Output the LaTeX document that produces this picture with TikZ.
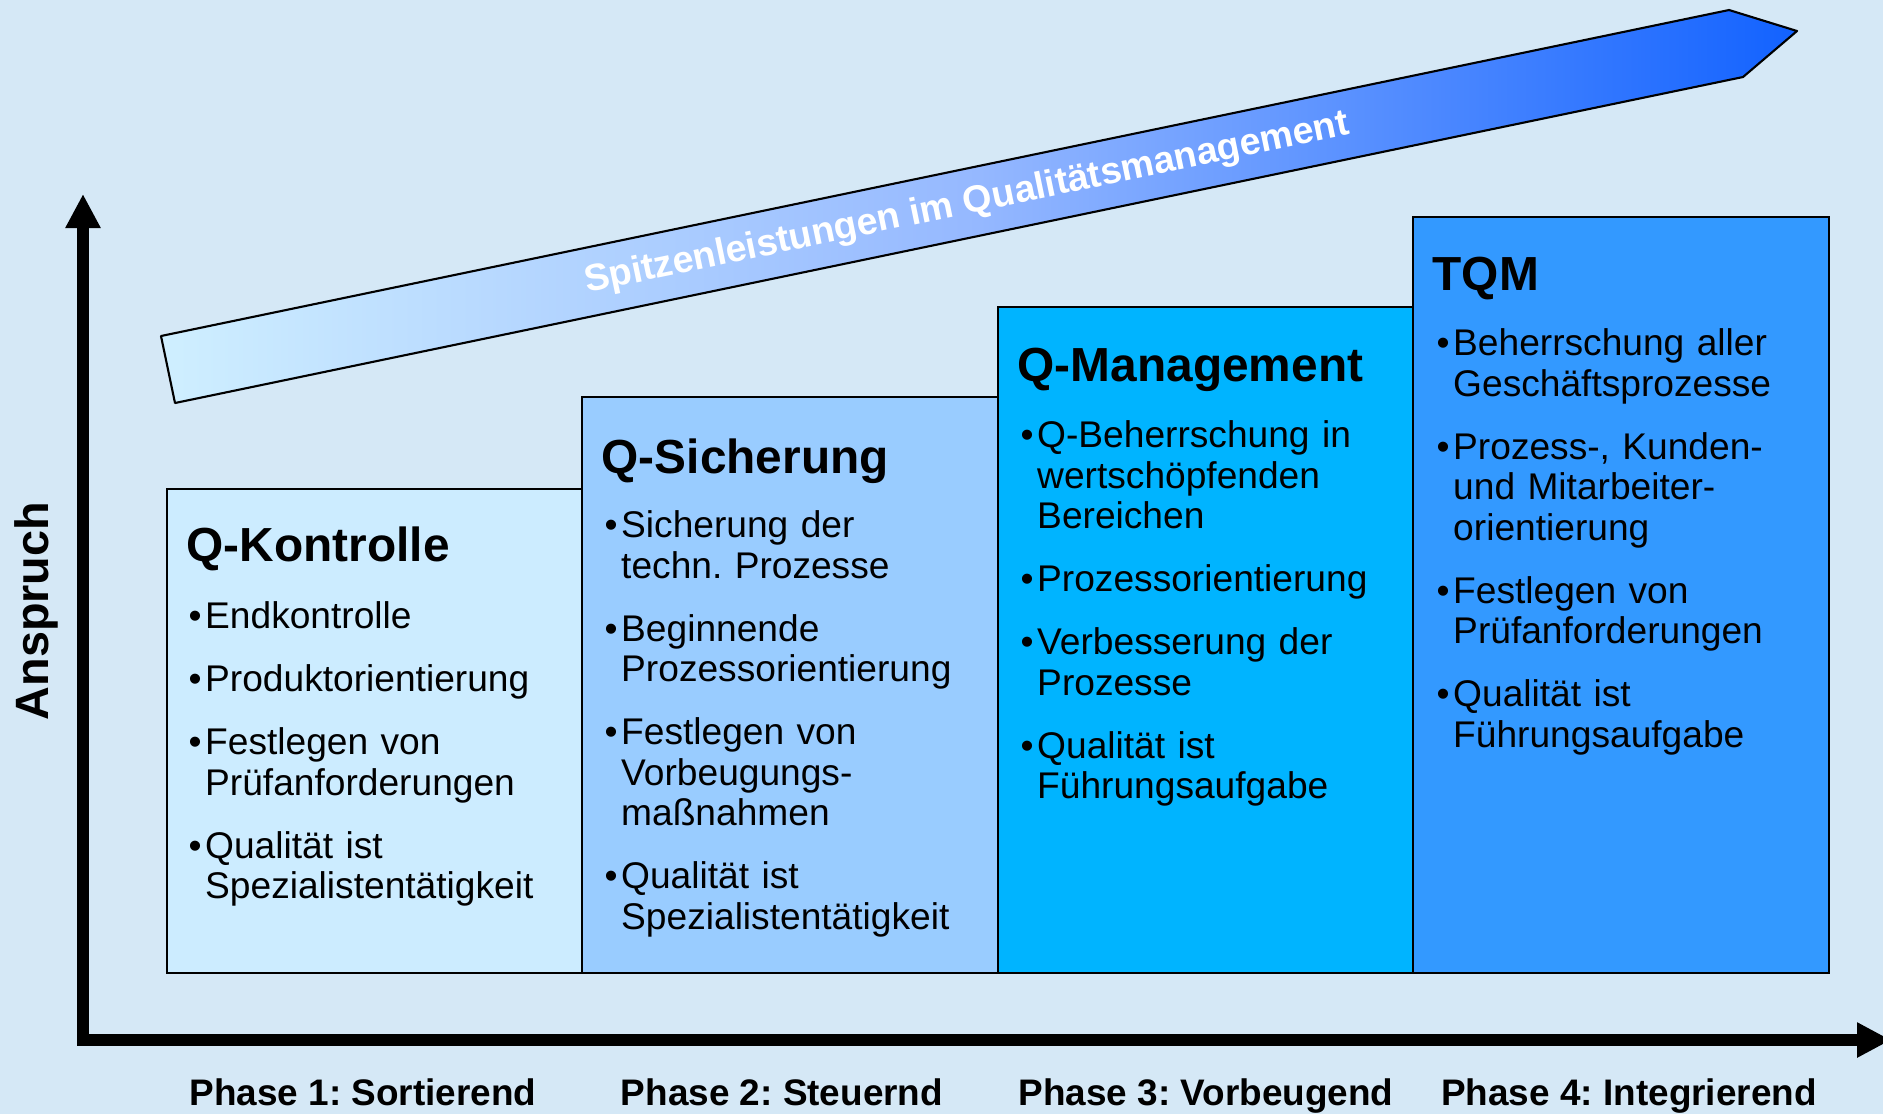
\documentclass[tikz,border=0pt]{standalone}
\usepackage{fontspec}
\setmainfont{Liberation Sans}
\usetikzlibrary{arrows.meta,calc}
\frenchspacing

\definecolor{bgblue}{HTML}{D5E8F6}
\definecolor{kontrolle}{HTML}{CCECFF}
\definecolor{sicherung}{HTML}{99CCFF}
\definecolor{management}{HTML}{00B4FF}
\definecolor{tqm}{HTML}{3399FF}
\definecolor{bandleft}{HTML}{CFEFFF}
\definecolor{bandmid}{HTML}{95B8FF}
\definecolor{bandright}{HTML}{1262FF}

\newcommand{\itm}[1]{\hangindent=0.165cm\hangafter=1\noindent\makebox[0.165cm][l]{\textbullet}#1\par}
\newcommand{\listgap}{\frenchspacing\setlength{\parskip}{6.4pt}}

\tikzset{
	phasebox/.style={draw, line width=0.6pt, inner sep=0pt, outer sep=0pt, anchor=south west, minimum width=4.155cm},
	boxtitle/.style={anchor=base west, inner sep=0pt, font=\fontsize{13.6pt}{16pt}\selectfont\bfseries},
	boxlist/.style={anchor=base west, inner sep=0pt, text width=3.85cm, align=left, font=\fontsize{10.56pt}{11.52pt}\selectfont},
	phaselabel/.style={anchor=base, inner sep=0pt, font=\fontsize{10.5pt}{12pt}\selectfont\bfseries},
	axis/.style={line width=3.4pt, {Triangle[width=0.33cm,length=0.34cm]}-{Triangle[width=0.33cm,length=0.34cm]}},
	banner/.style={draw, line width=0.6pt, line join=round, left color=bandleft, right color=bandright, middle color=bandmid},
	bannertext/.style={text=white, inner sep=0pt, font=\fontsize{10.7pt}{12pt}\selectfont\bfseries, rotate=11.75}
}

\begin{document}
\begin{tikzpicture}[x=0.01cm, y=-0.01cm]
	\path[use as bounding box, fill=bgblue] (0,0) rectangle (1883,1114);

	\draw[banner] (175,403) -- (161,336) -- (1729,10) -- (1797,31) -- (1743,77) -- cycle;
	\node[bannertext] (motto) at (967,204) {Spitzenleistungen im Qualitätsmanagement};

	\node[phasebox, fill=kontrolle, minimum height=4.84cm] (k1) at (167,973) {};
	\node[phasebox, fill=sicherung, minimum height=5.76cm] (k2) at (582,973) {};
	\node[phasebox, fill=management, minimum height=6.66cm] (k3) at (998,973) {};
	\node[phasebox, fill=tqm, minimum height=7.56cm] (k4) at (1413,973) {};

	\node[boxtitle] (t1) at ($(k1.north west)+(19,73)$) {Q-Kontrolle};
	\node[boxlist] (l1) at ($(k1.north west)+(21,140)$) {\listgap
		\itm{Endkontrolle}
		\itm{Produktorientierung}
		\itm{Festlegen von\newline Prüfanforderungen}
		\itm{Qualität ist\newline Spezialistentätigkeit}};

	\node[boxtitle] (t2) at ($(k2.north west)+(19,77)$) {Q-Sicherung};
	\node[boxlist] (l2) at ($(k2.north west)+(22,141)$) {\listgap
		\itm{Sicherung der\newline techn. Prozesse}
		\itm{Beginnende\newline Prozessorientierung}
		\itm{Festlegen von\newline Vorbeugungs-\newline maßnahmen}
		\itm{Qualität ist\newline Spezialistentätigkeit}};

	\node[boxtitle] (t3) at ($(k3.north west)+(19,75)$) {Q-Management};
	\node[boxlist] (l3) at ($(k3.north west)+(22,141)$) {\listgap
		\itm{Q-Beherrschung in\newline wertschöpfenden\newline Bereichen}
		\itm{Prozessorientierung}
		\itm{Verbesserung der\newline Prozesse}
		\itm{Qualität ist\newline Führungsaufgabe}};

	\node[boxtitle] (t4) at ($(k4.north west)+(19,74)$) {TQM};
	\node[boxlist] (l4) at ($(k4.north west)+(23,139)$) {\listgap
		\itm{Beherrschung aller\newline Geschäftsprozesse}
		\itm{Prozess-, Kunden-\newline und Mitarbeiter-\newline orientierung}
		\itm{Festlegen von\newline Prüfanforderungen}
		\itm{Qualität ist\newline Führungsaufgabe}};

	\coordinate (origin) at (83,1040);
	\coordinate (ytip) at (83,194);
	\coordinate (xtip) at (1891,1040);
	\draw[axis] (ytip) -- (origin) -- (xtip);

	\node[rotate=90, anchor=base, inner sep=0pt, font=\fontsize{13.3pt}{15pt}\selectfont\bfseries] (anspruch) at (48,611) {Anspruch};

	\node[phaselabel] (p1) at (363,1105) {Phase 1: Sortierend};
	\node[phaselabel] (p2) at (782,1105) {Phase 2: Steuernd};
	\node[phaselabel] (p3) at (1206,1105) {Phase 3: Vorbeugend};
	\node[phaselabel] (p4) at (1629,1105) {Phase 4: Integrierend};
\end{tikzpicture}
\end{document}
